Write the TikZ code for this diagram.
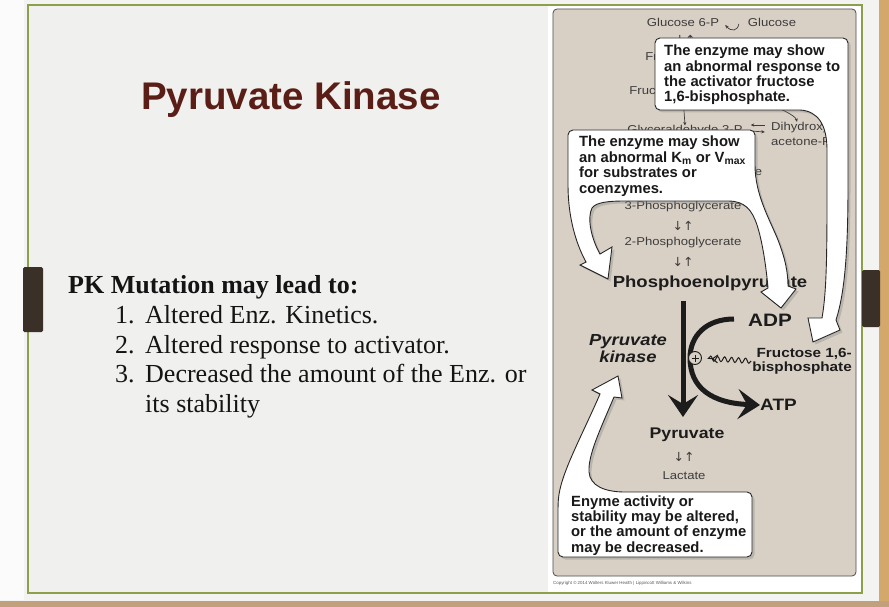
\documentclass[tikz,border=0pt]{standalone}
\usepackage{fontspec}
\setmainfont{Liberation Serif}
\newfontfamily\sansf{Liberation Sans}
\newfontfamily\figf[FakeStretch=1.15]{Liberation Sans}
\newfontfamily\arrf{DejaVu Sans}
\usetikzlibrary{arrows.meta,shadows,decorations.pathmorphing}
\definecolor{pagebg}{HTML}{F3F3F1}
\definecolor{slideinner}{HTML}{F0F0EE}
\definecolor{framegreen}{HTML}{8C9F4A}
\definecolor{tabbrown}{HTML}{3A3028}
\definecolor{titlered}{HTML}{5A1E16}
\definecolor{panelbeige}{HTML}{D9D0C5}
\definecolor{pathgrey}{HTML}{3C3C3C}
\definecolor{pathdark}{HTML}{1C1C1C}
\definecolor{tanstrip}{HTML}{D3A86A}
\definecolor{bottomstrip}{HTML}{C2A07C}
\begin{document}
\begin{tikzpicture}[x=1pt,y=-1pt,
  callout/.style={fill=white, draw=black!85, line width=0.9pt,
    drop shadow={opacity=0.35, shadow xshift=2.5pt, shadow yshift=-2.5pt}},
  calltext/.style={font=\sansf\bfseries\fontsize{14.8}{15.3}\selectfont, align=left, inner sep=0pt, text=black!90},
  smalltext/.style={font=\figf\fontsize{11.4}{15.5}\selectfont, text=pathgrey, inner sep=0pt},
  arrtext/.style={font=\arrf\fontsize{12.5}{13}\selectfont, text=pathgrey, inner sep=0pt},
  pathbold/.style={font=\figf\bfseries\fontsize{#1}{#1}\selectfont, text=pathdark, inner sep=0pt},
  smallarrow/.style={draw=pathgrey, line width=0.7pt, -{Stealth[length=3.5pt,width=3.2pt]}},
  bigarrow/.style={draw=pathdark, line width=5pt, -{Stealth[length=22pt,width=30pt,inset=9pt]}},
  slidetext/.style={font=\fontsize{26}{30}\selectfont, text=black!92, inner sep=0pt, anchor=base west},
  tabbox/.style={fill=tabbrown, rounded corners=1.5pt}
]
\useasboundingbox (0,0) rectangle (889,607);
% ---------- slide background ----------
\fill[pagebg] (0,0) rectangle (889,607);
\fill[white!70!pagebg] (0,0) rectangle (24,600);
\fill[tanstrip] (879,0) rectangle (889,607);
\fill[bottomstrip] (0,601) rectangle (889,607);
\fill[slideinner] (28,5) rectangle (862,593);
\fill[white] (548,5) rectangle (862,593);
\draw[framegreen, line width=1.5pt] (28,5) rectangle (862,593);
\fill[tabbox] (23,267) rectangle (43,332);
\fill[tabbox] (862,270) rectangle (880,327);

% ---------- slide text ----------
\node[font=\sansf\bfseries\fontsize{38.5}{40}\selectfont, text=titlered, inner sep=0pt, anchor=base] (title) at (291,110) {Pyruvate Kinase};
\node[slidetext, font=\bfseries\fontsize{26}{30}\selectfont] (head) at (68,293) {PK Mutation may lead to:};
\node[slidetext] (n1) at (115,323.5) {1.};
\node[slidetext] (i1) at (145,323.5) {Altered Enz. Kinetics.};
\node[slidetext] (n2) at (115,353) {2.};
\node[slidetext] (i2) at (145,353) {Altered response to activator.};
\node[slidetext] (n3) at (115,382.5) {3.};
\node[slidetext] (i3) at (145,382.5) {Decreased the amount of the Enz. or};
\node[slidetext] (i3b) at (145,412) {its stability};

% ---------- figure panel ----------
\filldraw[fill=panelbeige, draw=black!70, line width=0.8pt, rounded corners=4pt] (553,9) rectangle (856,576);
\node[font=\sansf\fontsize{4.4}{5}\selectfont, text=black!65, anchor=west, inner sep=0pt] (copy) at (553,583) {Copyright \textcopyright\ 2014 Wolters Kluwer Health | Lippincott Williams \& Wilkins};

% pathway
\node[smalltext] (g6p) at (683,22) {Glucose 6-P};
\node[smalltext] (glc) at (772,22) {Glucose};
\draw[smallarrow] ([shift={(-9,2)}]glc.west) .. controls +(-1,7) and +(6,7) .. ([shift={(6,3)}]g6p.east);
\node[arrtext] (a0) at (685,40) {↓↑};
\node[smalltext] (f6p) at (683,57) {Fructose 6-P};
\node[smalltext] (fbp) at (683,91) {Fructose 1,6-bis-P};
\node[smalltext] (gap) at (685,131) {Glyceraldehyde 3-P};
\node[smalltext, align=left, anchor=west] (dhap) at (771,134) {Dihydroxy-\\acetone-P};
\draw[smallarrow] (fbp.south) -- (gap.north);
\draw[smallarrow] ([xshift=-6]fbp.south east) .. controls +(30,2) and +(-2,-8) .. ([xshift=26]dhap.north west);
\draw[smallarrow] ([shift={(22,-6)}]gap.east) -- ([shift={(8,-6)}]gap.east);
\draw[smallarrow] ([shift={(8,0)}]gap.east) -- ([shift={(22,1)}]gap.east);
\node[smalltext] (bpg) at (690,173) {1,3-Bisphosphoglycerate};
\node[smalltext] (pg3) at (683,207) {3-Phosphoglycerate};
\node[arrtext] (a4) at (683,226) {↓↑};
\node[smalltext] (pg2) at (683,243) {2-Phosphoglycerate};
\node[arrtext] (a5) at (683,262) {↓↑};
\node[pathbold=16.1] (pep) at (710,283) {Phosphoenolpyruvate};
\node[pathbold=18] (adp) at (770,320) {ADP};
\node[font=\figf\bfseries\itshape\fontsize{16}{17}\selectfont, text=pathdark, inner sep=0pt, align=center] (pk) at (628,348.5) {Pyruvate\\kinase};
\node[font=\figf\bfseries\fontsize{13.3}{13.5}\selectfont, text=pathdark, inner sep=0pt, align=right, anchor=east] (fru) at (852,361) {Fructose 1,6-\\bisphosphate};
\node[pathbold=16.5, anchor=west] (atp) at (760,405) {ATP};
\node[pathbold=15.4] (pyr) at (687,435) {Pyruvate};
\node[arrtext] (a6) at (684,457) {↓↑};
\node[smalltext] (lac) at (684,476) {Lactate};

\coordinate (vtop) at (683,301);
\coordinate (vbot) at (683,417);
\coordinate (adpend) at (734,319);
\draw[bigarrow] (vtop) -- (vbot);
\draw[bigarrow] (adpend) .. controls (706,319) and (690,336) .. (690,358) .. controls (690,388) and (712,403) .. (atp.west);
\node[circle, draw=pathdark, fill=panelbeige, line width=0.9pt, minimum size=13pt, inner sep=0pt] (plus) at (695,358) {};
\draw[pathdark, line width=0.9pt] ([xshift=-3.5]plus.center) -- ([xshift=3.5]plus.center) ([yshift=-3.5]plus.center) -- ([yshift=3.5]plus.center);
\draw[pathdark, line width=1pt, decorate, decoration={snake, amplitude=2.5pt, segment length=7pt, post length=5pt}, -{Straight Barb[length=5pt,width=8pt]}, shorten >=10pt] ([xshift=-1]fru.west) -- (plus.east);

% ---------- callouts ----------
\filldraw[callout] (800,110) [rounded corners=5pt] -- (655,110) -- (655,38) -- (848,38) -- (848,180) [sharp corners]
  .. controls (848,250) and (845,292) .. (836,320) -- (840,330) -- (813,342) -- (808,318) -- (822,318)
  .. controls (826,295) and (827,265) .. (827,200) -- (827,150) .. controls (827,125) and (818,111) .. (800,110) -- cycle;
\node[calltext, anchor=west] (t1) at (664,75) {The enzyme may show\\an abnormal response to\\the activator fructose\\1,6-bisphosphate.};

\filldraw[callout] (568,185) [rounded corners=5pt] -- (568,130) -- (755,130) -- (755,160) [sharp corners]
  .. controls (755,195) and (770,220) .. (778,240) .. controls (785,258) and (788,272) .. (788,286)
  -- (796,289) -- (781,308) -- (761,292) -- (768,288)
  .. controls (766,265) and (762,240) .. (757,225) .. controls (752,210) and (745,201) .. (728,201)
  -- (625,201) .. controls (610,201) and (596,202) .. (592,208) .. controls (587,218) and (591,238) .. (600,254)
  -- (612,247) -- (608,279) -- (580,265) -- (586,262) .. controls (575,242) and (568,215) .. (568,185) -- cycle;
\node[calltext, anchor=west, font=\sansf\bfseries\fontsize{14.8}{15.6}\selectfont] (t2) at (579,166) {The enzyme may show\\an abnormal K\textsubscript{m} or V\textsubscript{max}\\for substrates or\\coenzymes.};

\filldraw[callout] (625,492) [rounded corners=5pt] -- (752,492) -- (752,557) -- (558,557) -- (558,505) [sharp corners]
  .. controls (560,475) and (580,440) .. (600,394) -- (592,390) -- (618,376) -- (622,398) -- (614,397)
  .. controls (600,430) and (588,455) .. (589,472) .. controls (590,486) and (605,492) .. (625,492) -- cycle;
\node[calltext, anchor=west] (t3) at (571,525.5) {Enyme activity or\\stability may be altered,\\or the amount of enzyme\\may be decreased.};
\end{tikzpicture}
\end{document}
